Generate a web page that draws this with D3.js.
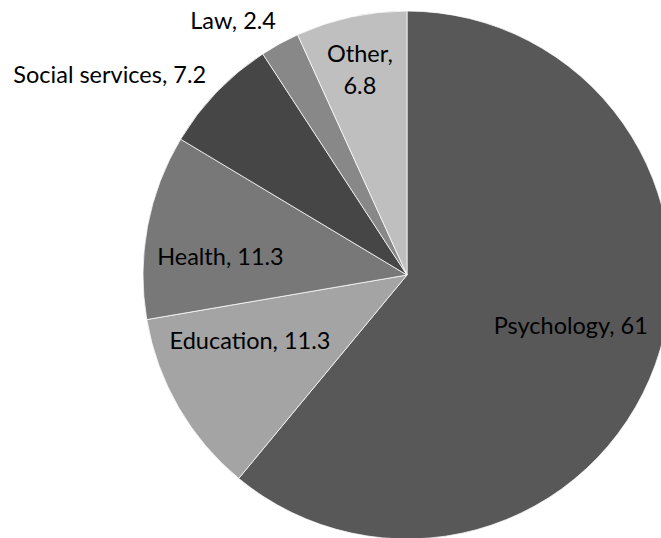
<!DOCTYPE html>
<html>
<head>
<meta charset="utf-8">
<style>
body { margin: 0; background: #fff; }
text { font-family: Lato, "Open Sans", sans-serif; font-size: 23.5px; fill: #000; }
</style>
</head>
<body>
<svg id="chart" width="661" height="538"></svg>
<script src="https://d3js.org/d3.v7.min.js"></script>
<script>

// data
const categories = ["Psychology", "Education", "Health", "Social services", "Law", "Other"];
const values = [61, 11.3, 11.3, 7.2, 2.4, 6.8];
const colors = ["#585858", "#a4a4a4", "#787878", "#464646", "#888888", "#bfbfbf"];
// label placement: distance as fraction of radius, and angle nudge (deg) from slice middle
const labelRadius = [0.65, 0.645, 0.71, 1.357, 1.166, 0.797];
const labelNudge = [-2.5, 7.3, -5.1, -10, -5.6, -0.7];

const width = 661, height = 538;
const cx = 407, cy = 275, radius = 264;

const svg = d3.select("#chart");
const g = svg.append("g").attr("transform", "translate(" + cx + "," + cy + ")");

const data = categories.map((c, i) => ({ name: c, value: values[i], i: i }));

const pie = d3.pie().value(d => d.value).sort(null);
const arc = d3.arc().innerRadius(0).outerRadius(radius);
const arcs = pie(data);

g.selectAll("path")
    .data(arcs)
    .join("path")
    .attr("d", arc)
    .attr("fill", d => colors[d.data.i])
    .attr("stroke", "#fff")
    .attr("stroke-width", 0.75);

g.selectAll("text")
    .data(arcs)
    .join("text")
    .attr("text-anchor", "middle")
    .each(function(d) {
        let i = d.data.i;
        let a = (d.startAngle + d.endAngle) / 2 + labelNudge[i] * Math.PI / 180;
        let r = radius * labelRadius[i];
        let x = r * Math.sin(a), y = -r * Math.cos(a);
        let t = d3.select(this);
        if (d.data.name == "Other") {
            t.append("tspan").attr("x", x).attr("y", y - 16).attr("dy", "0.35em").text(d.data.name + ",");
            t.append("tspan").attr("x", x).attr("y", y + 16).attr("dy", "0.35em").text(d.data.value);
        } else {
            t.attr("x", x).attr("y", y).attr("dy", "0.35em").text(d.data.name + ", " + d.data.value);
        }
    });

</script>
</body>
</html>
